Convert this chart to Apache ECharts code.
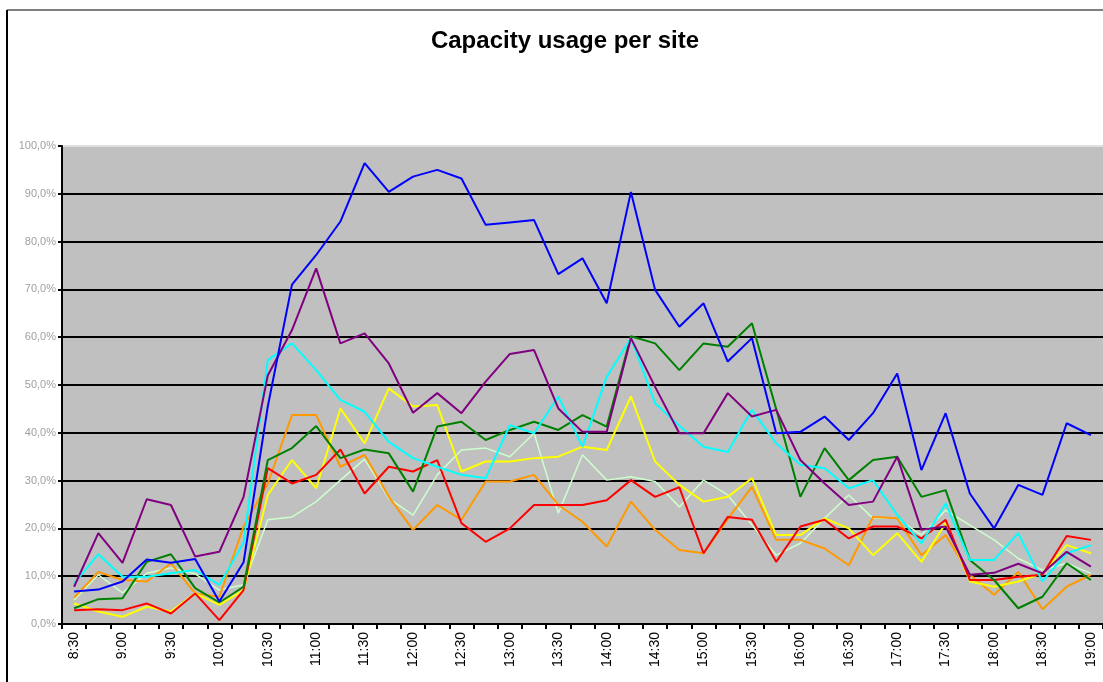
<!DOCTYPE html>
<html>
<head>
<meta charset="utf-8">
<title>Capacity usage per site</title>
<script src="https://cdn.jsdelivr.net/npm/echarts@6/dist/echarts.min.js"></script>
<style>
  html, body { margin: 0; padding: 0; background: #fff; }
  #chart { width: 1103px; height: 682px; }
</style>
</head>
<body>
<div id="chart"></div>
<script>
// time slots, every 15 minutes
var times = ["8:30", "8:45", "9:00", "9:15", "9:30", "9:45", "10:00", "10:15", "10:30", "10:45",
  "11:00", "11:15", "11:30", "11:45", "12:00", "12:15", "12:30", "12:45", "13:00", "13:15",
  "13:30", "13:45", "14:00", "14:15", "14:30", "14:45", "15:00", "15:15", "15:30", "15:45",
  "16:00", "16:15", "16:30", "16:45", "17:00", "17:15", "17:30", "17:45", "18:00", "18:15",
  "18:30", "18:45", "19:00"];

// usage in % per site
var blueSite = [6.8, 7.2, 8.9, 13.5, 12.8, 13.6, 4.7, 12.9, 45.5, 71, 77.2, 84.2, 96.4, 90.4, 93.6,
  95, 93.2, 83.5, 84, 84.5, 73.2, 76.5, 67.1, 90.4, 69.9, 62.2, 67.1, 54.9, 59.8, 39.9,
  40.2, 43.4, 38.5, 44.1, 52.4, 32.2, 44.1, 27.3, 20, 29.1, 27, 42, 39.5];
var purpleSite = [7.8, 19, 12.8, 26.1, 24.9, 14.1, 15.1, 26.6, 52, 61.5, 74.4, 58.7, 60.8, 54.5, 44.2,
  48.3, 44.1, 50.7, 56.5, 57.3, 45.1, 40.2, 40.2, 59.8, 49.6, 39.9, 39.9, 48.3, 43.4, 44.8,
  34.3, 29.4, 24.9, 25.6, 35, 19.7, 20.4, 10.3, 10.7, 12.6, 10.6, 15.1, 12];
var cyanSite = [8.5, 14.6, 9.9, 9.9, 10.6, 11.3, 8.2, 17, 55.2, 58.7, 53.1, 46.9, 44.4, 38.1, 34.7,
  32.9, 31.2, 30.5, 41.6, 39.9, 47.6, 37.1, 51.7, 59.8, 46.2, 41.5, 37.1, 36, 44.8, 37.8,
  33.3, 32.6, 28.4, 30.1, 22.8, 16.9, 25.2, 13.4, 13.4, 19, 8.9, 14.8, 16.5];
var greenSite = [3.3, 5.2, 5.4, 13, 14.6, 7.5, 4.5, 7.8, 34.3, 36.8, 41.4, 34.7, 36.5, 35.7, 27.7,
  41.3, 42.3, 38.5, 40.6, 42.3, 40.6, 43.7, 41.3, 60.2, 58.7, 53.1, 58.7, 58, 62.9, 45,
  26.6, 36.8, 30.1, 34.3, 35, 26.6, 28, 13.4, 9.2, 3.3, 5.7, 12.7, 9.2];
var orangeSite = [5.5, 10.9, 9.2, 8.9, 12.7, 6.4, 5.7, 20.4, 29.4, 43.7, 43.7, 32.9, 35.4, 26.6, 19.7,
  24.9, 21.8, 29.8, 29.8, 31.2, 24.9, 21.4, 16.2, 25.6, 19.7, 15.5, 14.8, 22, 28.7, 17.6,
  17.6, 15.8, 12.3, 22.4, 22.1, 14.4, 18.6, 10.3, 6.1, 10.9, 3.1, 7.8, 10.3];
var yellowSite = [4.3, 2.6, 1.5, 3.6, 2.6, 6.4, 4, 7.1, 27, 34.3, 28.4, 45.1, 37.8, 49.3, 45.5,
  45.8, 31.9, 34, 34, 34.7, 35, 37.1, 36.4, 47.6, 34, 29.1, 25.6, 26.6, 30.5, 18.6,
  18.6, 22.1, 20, 14.4, 19, 13, 21.1, 8.9, 7.8, 8.9, 10.6, 16.5, 14.8];
var redSite = [2.9, 3.1, 2.9, 4.3, 2.2, 6.4, 0.8, 7.1, 32.6, 29.4, 31.2, 36.5, 27.3, 32.9, 31.9,
  34.3, 21.1, 17.2, 20, 24.9, 24.9, 24.9, 25.9, 30.1, 26.6, 28.6, 14.8, 22.4, 21.8, 13,
  20.4, 21.8, 17.9, 20.4, 20.4, 17.9, 21.8, 9.2, 9.2, 9.9, 10.3, 18.4, 17.6];
var paleSite = [5, 10.3, 6.5, 10.6, 11.7, 10.5, 7.1, 8.2, 21.8, 22.4, 25.6, 30.1, 34.5, 26.3, 22.8,
  31.2, 36.4, 36.8, 35, 39.9, 23.2, 35.4, 30.1, 30.8, 29.8, 24.5, 30.1, 27, 20.7, 14.4,
  16.9, 22.1, 27, 22.1, 22.1, 18.6, 23.8, 20.7, 17.6, 13.7, 11.3, 12.7, 10.6];

var yTicks = [0, 10, 20, 30, 40, 50, 60, 70, 80, 90, 100];

function line(name, data, color, width) {
  return {
    name: name,
    type: "line",
    data: data,
    symbol: "none",
    animation: false,
    lineStyle: { color: color, width: width },
    itemStyle: { color: color }
  };
}

var chart = echarts.init(document.getElementById("chart"));
chart.setOption({
  backgroundColor: "#fff",
  animation: false,
  title: {
    text: "Capacity usage per site",
    left: 560,
    textAlign: "center",
    top: 24,
    textStyle: { fontFamily: "Liberation Sans, Arial", fontSize: 24, fontWeight: "bold", color: "#000" }
  },
  grid: {
    left: 62,
    top: 146,
    width: 1047,
    height: 478,
    show: true,
    backgroundColor: "#c0c0c0",
    borderWidth: 0
  },
  xAxis: {
    type: "category",
    data: times,
    boundaryGap: true,
    axisLine: { lineStyle: { color: "#000", width: 2 } },
    axisTick: { show: true, interval: 0, length: 5, lineStyle: { color: "#000", width: 2 } },
    axisLabel: {
      interval: 1,
      rotate: 90,
      margin: 8,
      color: "#000",
      fontSize: 14,
      fontFamily: "Liberation Sans, Arial"
    },
    splitLine: { show: false }
  },
  yAxis: {
    type: "value",
    min: yTicks[0],
    max: yTicks[yTicks.length - 1],
    interval: 10,
    axisLine: { show: true, lineStyle: { color: "#000", width: 2 } },
    axisTick: { show: true, length: 4, lineStyle: { color: "#000", width: 2 } },
    axisLabel: {
      margin: 6,
      color: "#a0a0a0",
      fontSize: 11,
      fontFamily: "Liberation Sans, Arial",
      formatter: function (v) { return v.toFixed(1).replace(".", ",") + "%"; }
    },
    splitLine: {
      show: true,
      lineStyle: {
        color: ["#000", "#000", "#000", "#000", "#000", "#000", "#000", "#000", "#000", "#000", "#e0e0e0"],
        width: 2
      }
    }
  },
  graphic: [
    { type: "line", shape: { x1: 7, y1: 10, x2: 7, y2: 682 }, style: { stroke: "#000", lineWidth: 2 } },
    { type: "line", shape: { x1: 7, y1: 10, x2: 1103, y2: 10 }, style: { stroke: "#000", lineWidth: 1 } }
  ],
  series: [
    line("Site 8", paleSite, "#ccffcc", 1.5),
    line("Site 7", orangeSite, "#ff9900", 2),
    line("Site 6", yellowSite, "#ffff00", 2),
    line("Site 5", redSite, "#ff0000", 2),
    line("Site 4", greenSite, "#008000", 2),
    line("Site 3", cyanSite, "#00ffff", 2),
    line("Site 2", purpleSite, "#800080", 2),
    line("Site 1", blueSite, "#0000ff", 2)
  ]
});
</script>
</body>
</html>
